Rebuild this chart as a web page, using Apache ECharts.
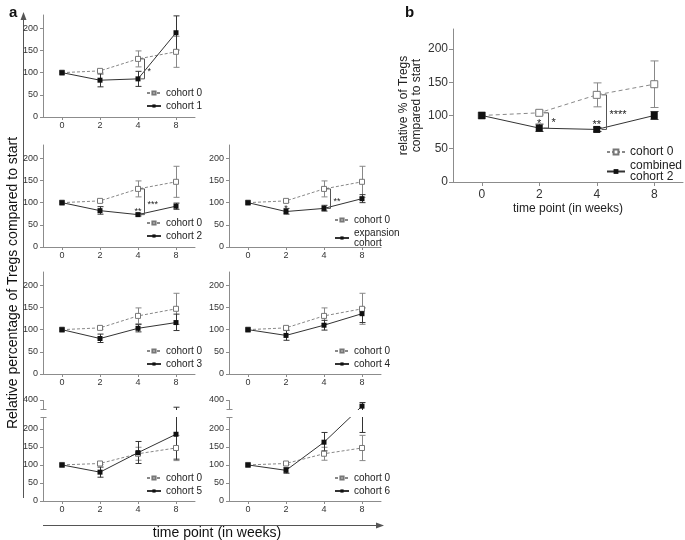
<!DOCTYPE html>
<html><head><meta charset="utf-8">
<script src="https://cdn.jsdelivr.net/npm/echarts@6/dist/echarts.min.js"></script>
<style>html,body{margin:0;padding:0;background:#fff}#c{width:685px;height:540px}</style>
</head><body><div id="c"></div>
<script>
// ---------------- data ----------------
const weeks = ['0', '2', '4', '8'];
const yTickLabels = [0, 50, 100, 150, 200];
const yTickLabelsBroken = [0, 50, 100, 150, 200, 400];
const yMax = 230;
const brokenMax = 400;
const breakRange = [230, 375];

const cohort0Mean = [100, 104, 131, 147];
const cohort0Low  = [100, 101, 113, 112];
const cohort0High = [100, 107, 149, 182];

const cohort1Mean = [100, 83, 86, 190];
const cohort1Low  = [100, 68, 69, 151];
const cohort1High = [100, 97, 103, 228];

const cohort2Mean = [100, 82, 73, 92];
const cohort2Low  = [100, 74, 70, 85];
const cohort2High = [100, 91, 76, 99];

const expansionMean = [100, 80, 87, 109];
const expansionLow  = [100, 74, 81, 100];
const expansionHigh = [100, 87, 94, 118];

const cohort3Mean = [100, 80, 103, 116];
const cohort3Low  = [100, 71, 95, 98];
const cohort3High = [100, 90, 112, 135];

const cohort4Mean = [100, 87, 110, 136];
const cohort4Low  = [100, 76, 99, 116];
const cohort4High = [100, 98, 121, 149];

const cohort5Mean = [100, 80, 134, 185];
const cohort5Low  = [100, 66, 104, 116];
const cohort5High = [100, 94, 165, 380];

const cohort6Mean = [100, 85, 163, 383];
const cohort6Low  = [100, 77, 139, 190];
const cohort6High = [100, 93, 190, 393];

const combinedMean = [100, 81, 79, 100];
const combinedLow  = [100, 76, 76, 94];
const combinedHigh = [100, 87, 82, 106];

// significance brackets: [week index, from value, to value, label]
const bracketsCohort1 = [[2, 131, 86, '*']];
const bracketsCohort2 = [[2, 131, 73, '***']];
const bracketsExpansion = [[2, 131, 87, '**']];
const bracketsCombined = [[1, 104, 81, '*'], [2, 131, 79, '****']];
// asterisks at points: [week index, value, label]
const starsCohort2 = [[2, 73, '**']];
const starsExpansion = [[1, 80, '*']];
const starsCombined = [[1, 81, '*'], [2, 79, '**']];

// ---------------- layout ----------------
const panels = [
  { name: 'cohort 1', mean: cohort1Mean, low: cohort1Low, high: cohort1High, brackets: bracketsCohort1, stars: [] },
  { name: 'cohort 2', mean: cohort2Mean, low: cohort2Low, high: cohort2High, brackets: bracketsCohort2, stars: starsCohort2 },
  { name: 'expansion\ncohort', mean: expansionMean, low: expansionLow, high: expansionHigh, brackets: bracketsExpansion, stars: starsExpansion },
  { name: 'cohort 3', mean: cohort3Mean, low: cohort3Low, high: cohort3High, brackets: [], stars: [] },
  { name: 'cohort 4', mean: cohort4Mean, low: cohort4Low, high: cohort4High, brackets: [], stars: [] },
  { name: 'cohort 5', mean: cohort5Mean, low: cohort5Low, high: cohort5High, brackets: [], stars: [] },
  { name: 'cohort 6', mean: cohort6Mean, low: cohort6Low, high: cohort6High, brackets: [], stars: [] },
  { name: 'combined\ncohort 2', mean: combinedMean, low: combinedLow, high: combinedHigh, brackets: bracketsCombined, stars: starsCombined, big: true }
];
const gridPos = [
  { left: 43, top: 15, width: 152, height: 102 },
  { left: 43, top: 145, width: 152, height: 102 },
  { left: 229, top: 145, width: 152, height: 102 },
  { left: 43, top: 272, width: 152, height: 102 },
  { left: 229, top: 272, width: 152, height: 102 },
  { left: 43, top: 400, width: 152, height: 101, broken: true },
  { left: 229, top: 400, width: 152, height: 101, broken: true },
  { left: 453, top: 29, width: 230, height: 153 }
];
const legendPos = [
  { left: 146, top: 88 }, { left: 146, top: 218 }, { left: 334, top: 215 },
  { left: 146, top: 346 }, { left: 334, top: 346 }, { left: 146, top: 473 },
  { left: 334, top: 473 }, { left: 606, top: 146 }
];

const AX = '#8c8c8c';
const grids = [], xAxes = [], yAxes = [], series = [], legends = [];

function errorBars(gi, low, high, color, cap) {
  return {
    type: 'custom', xAxisIndex: gi, yAxisIndex: gi, silent: true, z: 1,
    data: weeks.map((w, i) => [i, low[i], high[i]]),
    renderItem(params, api) {
      const i = api.value(0), l = api.value(1), h = api.value(2);
      if (l === h) return null;
      const pl = api.coord([i, l]), ph = api.coord([i, h]);
      const x = Math.round(pl[0]) + 0.5;
      const st = { stroke: color, lineWidth: 1 };
      return { type: 'group', children: [
        { type: 'line', shape: { x1: x, y1: pl[1], x2: x, y2: ph[1] }, style: st },
        { type: 'line', shape: { x1: x - cap, y1: pl[1], x2: x + cap, y2: pl[1] }, style: st },
        { type: 'line', shape: { x1: x - cap, y1: ph[1], x2: x + cap, y2: ph[1] }, style: st }
      ] };
    }
  };
}

// white mask over the axis-break gap, with small caps on the y axis at both ends
function breakMask(gi) {
  return {
    type: 'custom', xAxisIndex: gi, yAxisIndex: gi, silent: true, z: 20,
    data: [[0, breakRange[0], breakRange[1]]],
    renderItem(params, api) {
      const cs = params.coordSys;
      const yLow = api.coord([0, api.value(1)])[1];
      const yHigh = api.coord([0, api.value(2)])[1];
      const a = Math.round(yLow) - 0.5, b = Math.round(yHigh) + 0.5;
      const ax = cs.x + 0.5;
      const st = { stroke: AX, lineWidth: 1 };
      return { type: 'group', children: [
        { type: 'rect', shape: { x: cs.x - 2, y: b + 0.5, width: cs.width + 4, height: a - b - 1 }, style: { fill: '#fff' } },
        { type: 'line', shape: { x1: ax - 3, y1: a, x2: ax + 3, y2: a }, style: st },
        { type: 'line', shape: { x1: ax - 3, y1: b, x2: ax + 3, y2: b }, style: st }
      ] };
    }
  };
}

function bracketSeries(gi, items, s) {
  return {
    type: 'custom', xAxisIndex: gi, yAxisIndex: gi, silent: true, z: 5,
    data: items.map(d => [d[0], d[1], d[2]]),
    renderItem(params, api) {
      const d = items[params.dataIndex];
      const a = api.coord([d[0], d[1]]), b = api.coord([d[0], d[2]]);
      const x = Math.round(a[0] + s.dx) + 0.5;
      return { type: 'group', children: [
        { type: 'polyline', shape: { points: [[x - s.arm, a[1]], [x, a[1]], [x, b[1]], [x - s.arm, b[1]]] },
          style: { stroke: '#555', lineWidth: 1, fill: null } },
        { type: 'text', x: x + s.tx, y: (a[1] + b[1]) / 2 + s.ty,
          style: { text: d[3], font: s.font, fill: '#222', verticalAlign: 'middle', align: 'left' } }
      ] };
    }
  };
}

function starSeries(gi, items, s) {
  return {
    type: 'custom', xAxisIndex: gi, yAxisIndex: gi, silent: true, z: 5,
    data: items.map(d => [d[0], d[1]]),
    renderItem(params, api) {
      const d = items[params.dataIndex];
      const p = api.coord([d[0], d[1]]);
      return { type: 'text', x: p[0] + s.sx, y: p[1] - s.sy,
        style: { text: d[2], font: s.font, fill: '#222', verticalAlign: 'middle', align: 'center' } };
    }
  };
}

panels.forEach((p, gi) => {
  const g = gridPos[gi];
  const big = !!p.big;
  grids.push({ left: g.left, top: g.top, width: g.width, height: g.height, containLabel: false });
  xAxes.push({
    type: 'category', gridIndex: gi, data: weeks, boundaryGap: true,
    axisLine: { show: true, lineStyle: { color: AX, width: 1 } },
    axisTick: { show: true, alignWithLabel: true, length: big ? 4 : 3, lineStyle: { color: AX } },
    axisLabel: { fontSize: big ? 12 : 9, color: '#333', margin: big ? 7 : 4, fontFamily: 'Liberation Sans, Arial' },
    ...(big ? { name: 'time point (in weeks)', nameLocation: 'middle', nameGap: 21,
      nameTextStyle: { fontSize: 12, color: '#222', fontFamily: 'Liberation Sans, Arial' } } : {})
  });
  const ticks = g.broken ? yTickLabelsBroken : yTickLabels;
  const y = {
    type: 'value', gridIndex: gi, min: 0, max: g.broken ? brokenMax : yMax, interval: 50,
    axisLine: { show: true, lineStyle: { color: AX, width: 1 } },
    axisTick: { show: true, length: big ? 4 : 3, lineStyle: { color: AX }, customValues: ticks },
    axisLabel: { fontSize: big ? 12 : 9, color: '#333', margin: 5, customValues: ticks, fontFamily: 'Liberation Sans, Arial' },
    splitLine: { show: false }
  };
  if (g.broken) {
    y.breaks = [{ start: breakRange[0], end: breakRange[1], gap: 25 }];
    y.breakArea = { show: false, expandOnClick: false };
  }
  if (big) {
    y.name = 'relative % of Tregs\ncompared to start';
    y.nameLocation = 'middle';
    y.nameGap = 30;
    y.nameTextStyle = { fontSize: 12, color: '#222', lineHeight: 13, fontFamily: 'Liberation Sans, Arial' };
  }
  yAxes.push(y);

  const sym = big ? 7 : 5;
  series.push(errorBars(gi, cohort0Low, cohort0High, '#888', big ? 4 : 3));
  series.push(errorBars(gi, p.low, p.high, '#333', big ? 4 : 3));
  series.push({
    type: 'line', name: 'cohort 0', xAxisIndex: gi, yAxisIndex: gi, data: cohort0Mean,
    symbol: 'rect', symbolSize: sym, z: 3, silent: true,
    itemStyle: { color: '#fff', borderColor: '#777', borderWidth: 1 },
    lineStyle: { color: '#888', width: 1, type: big ? [4, 3] : [3, 2] }
  });
  series.push({
    type: 'line', name: p.name, xAxisIndex: gi, yAxisIndex: gi, data: p.mean,
    symbol: 'rect', symbolSize: sym, z: 4, silent: true,
    itemStyle: { color: '#111', borderColor: '#111', borderWidth: 0 },
    lineStyle: { color: '#333', width: 1 }
  });
  if (g.broken) series.push(breakMask(gi));
  const fs = big ? 11 : 9;
  if (p.brackets.length) series.push(bracketSeries(gi, p.brackets,
    { dx: big ? 9 : 6, arm: big ? 5 : 4, tx: 3, ty: 3, font: fs + 'px Liberation Sans, Arial' }));
  if (p.stars.length) series.push(starSeries(gi, p.stars,
    { sx: 0, sy: big ? 4 : 3, font: fs + 'px Liberation Sans, Arial' }));

  legends.push({
    left: legendPos[gi].left, top: legendPos[gi].top, orient: 'vertical',
    data: ['cohort 0', p.name], selectedMode: false, padding: 0,
    itemWidth: big ? 18 : 14, itemHeight: big ? 6 : 4, itemGap: big ? 2 : 3,
    textStyle: { fontSize: big ? 12 : 10, color: '#222', lineHeight: big ? 11 : 10, fontFamily: 'Liberation Sans, Arial' }
  });
});

const option = {
  animation: false,
  backgroundColor: '#fff',
  title: [
    { text: 'a', left: 4, top: 0, textStyle: { fontSize: 15, fontWeight: 'bold', color: '#111', fontFamily: 'Liberation Sans, Arial' } },
    { text: 'b', left: 400, top: 0, textStyle: { fontSize: 15, fontWeight: 'bold', color: '#111', fontFamily: 'Liberation Sans, Arial' } }
  ],
  grid: grids, xAxis: xAxes, yAxis: yAxes, series: series, legend: legends,
  graphic: [
    { type: 'line', shape: { x1: 23.5, y1: 498, x2: 23.5, y2: 19 }, style: { stroke: '#555', lineWidth: 1 } },
    { type: 'polygon', shape: { points: [[23.5, 12], [20.5, 20], [26.5, 20]] }, style: { fill: '#555' } },
    { type: 'line', shape: { x1: 43, y1: 525.5, x2: 377, y2: 525.5 }, style: { stroke: '#555', lineWidth: 1 } },
    { type: 'polygon', shape: { points: [[384, 525.5], [376, 522.5], [376, 528.5]] }, style: { fill: '#555' } },
    { type: 'text', x: 217, y: 533, style: { text: 'time point (in weeks)', font: '14px Liberation Sans, Arial', fill: '#111', align: 'center', verticalAlign: 'middle' } },
    { type: 'text', x: 13, y: 283, rotation: Math.PI / 2,
      style: { text: 'Relative percentage of Tregs compared to start', font: '14px Liberation Sans, Arial', fill: '#111', align: 'center', verticalAlign: 'middle' } }
  ]
};

const chart = echarts.init(document.getElementById('c'), null, { renderer: 'canvas' });
chart.setOption(option);
</script></body></html>
